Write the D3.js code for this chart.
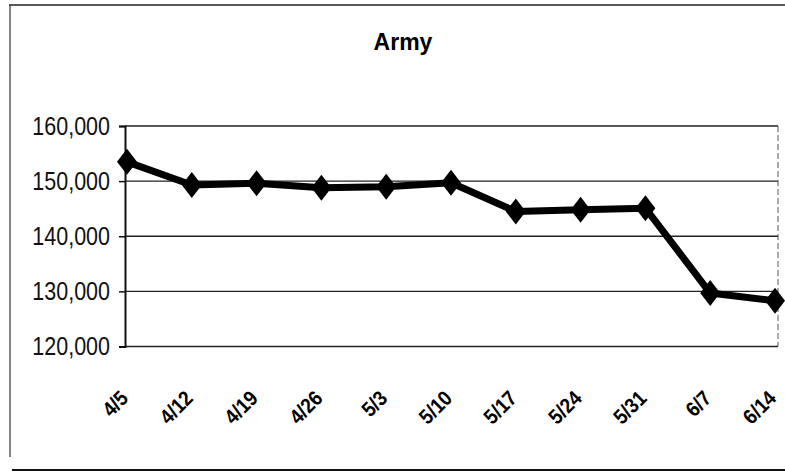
<!DOCTYPE html>
<html><head><meta charset="utf-8">
<script src="https://cdn.jsdelivr.net/npm/d3@7"></script>
<style>html,body{margin:0;padding:0;background:#fff;}svg{display:block;}</style>
</head><body>
<svg id="c" width="785" height="472"></svg>
<script>
const title = "Army";
const categories = ["4/5","4/12","4/19","4/26","5/3","5/10","5/17","5/24","5/31","6/7","6/14"];
const values = [153500,149300,149600,148800,149000,149700,144500,144800,145100,129700,128300];
const yTicks = [120000,130000,140000,150000,160000];

const svg = d3.select("#c");
svg.append("rect").attr("width",785).attr("height",472).attr("fill","#fff");

// outer frame
svg.append("line").attr("x1",9).attr("x2",785).attr("y1",5).attr("y2",5).attr("stroke","#222").attr("stroke-width",1.5);
svg.append("line").attr("x1",10).attr("x2",10).attr("y1",5).attr("y2",457).attr("stroke","#333").attr("stroke-width",1.2);
svg.append("line").attr("x1",12).attr("x2",785).attr("y1",470).attr("y2",470).attr("stroke","#111").attr("stroke-width",2);

const x = d3.scalePoint().domain(categories).range([127,775]).padding(0);
const y = d3.scaleLinear().domain([120000,160000]).range([346.5,126]);

// gridlines
svg.append("g").selectAll("line").data(yTicks).join("line")
  .attr("x1",125).attr("x2",778).attr("y1",d=>y(d)).attr("y2",d=>y(d))
  .attr("stroke","#222").attr("stroke-width",1.3);
// right border
svg.append("line").attr("x1",778).attr("x2",778).attr("y1",y(160000)).attr("y2",y(120000))
  .attr("stroke","#555").attr("stroke-width",1).attr("stroke-dasharray","6,3");

// y axis
const yAxis = d3.axisLeft(y).tickValues(yTicks).tickSize(6).tickPadding(0).tickFormat(d3.format(","));
const gy = svg.append("g").attr("transform","translate(125,0)").call(yAxis);
gy.select(".domain").attr("stroke","#111").attr("stroke-width",2);
gy.selectAll(".tick line").attr("stroke","#111").attr("stroke-width",1.5);
gy.selectAll(".tick text").attr("fill","#111").attr("x",0)
  .attr("transform","translate(-15,0) scale(0.86,1)")
  .style("font-family","'Liberation Sans',Arial,sans-serif")
  .style("font-size","25px");

// x axis labels
const xAxis = d3.axisBottom(x).tickSize(0).tickPadding(0);
const gx = svg.append("g").attr("transform","translate(0,346.5)").call(xAxis);
gx.select(".domain").remove();
gx.selectAll(".tick text")
  .attr("text-anchor","end").attr("dy",0).attr("y",0)
  .attr("transform","translate(2,53) rotate(-45) scale(0.9,1)")
  .attr("fill","#000")
  .style("font-family","'Liberation Sans',Arial,sans-serif")
  .style("font-weight","bold").style("font-size","21px");

// line
const line = d3.line().x((d,i)=>x(categories[i])).y(d=>y(d));
svg.append("path").datum(values).attr("d",line).attr("fill","none")
  .attr("stroke","#000").attr("stroke-width",7).attr("stroke-linejoin","round");

// diamond markers
svg.append("g").selectAll("path").data(values).join("path")
  .attr("transform",(d,i)=>`translate(${x(categories[i])},${y(d)})`)
  .attr("d","M0,-13L10,0L0,13L-10,0Z").attr("fill","#000");

// title
svg.append("text").attr("x",403).attr("y",50).attr("text-anchor","middle")
  .style("font-family","'Liberation Sans',Arial,sans-serif").style("font-weight","bold")
  .style("font-size","23px").attr("fill","#000").text(title);
</script>
</body></html>
